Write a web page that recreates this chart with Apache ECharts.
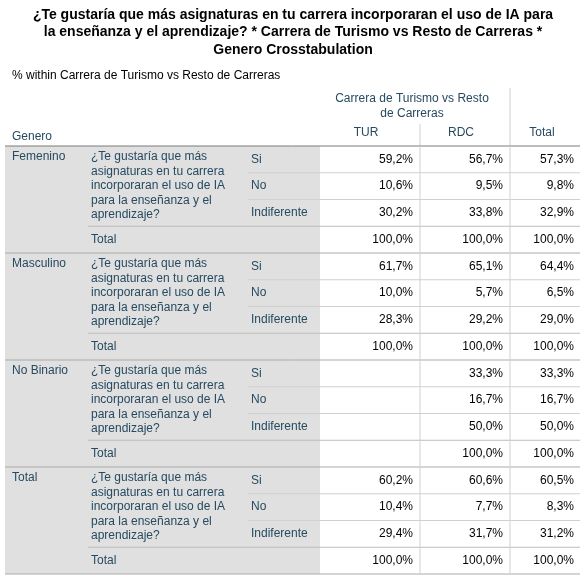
<!DOCTYPE html>
<html>
<head>
<meta charset="utf-8">
<script src="https://cdn.jsdelivr.net/npm/echarts@6/dist/echarts.min.js"></script>
<style>html,body{margin:0;padding:0;background:#fff}#main{width:586px;height:577px}</style>
</head>
<body>
<div id="main"></div>
<script>
var titleLines = ['¿Te gustaría que más asignaturas en tu carrera incorporaran el uso de IA para', 'la enseñanza y el aprendizaje? * Carrera de Turismo vs Resto de Carreras *', 'Genero Crosstabulation'];
var subtitle = '% within Carrera de Turismo vs Resto de Carreras';
var groups = ['Femenino', 'Masculino', 'No Binario', 'Total'];
var question = ['¿Te gustaría que más', 'asignaturas en tu carrera', 'incorporaran el uso de IA', 'para la enseñanza y el', 'aprendizaje?'];
var answers = ['Si', 'No', 'Indiferente', 'Total'];
var colHead = ['TUR', 'RDC', 'Total'];
var turVals = [['59,2%','10,6%','30,2%','100,0%'], ['61,7%','10,0%','28,3%','100,0%'], ['','','',''], ['60,2%','10,4%','29,4%','100,0%']];
var rdcVals = [['56,7%','9,5%','33,8%','100,0%'], ['65,1%','5,7%','29,2%','100,0%'], ['33,3%','16,7%','50,0%','100,0%'], ['60,6%','7,7%','31,7%','100,0%']];
var totVals = [['57,3%','9,8%','32,9%','100,0%'], ['64,4%','6,5%','29,0%','100,0%'], ['33,3%','16,7%','50,0%','100,0%'], ['60,5%','8,3%','31,2%','100,0%']];

var chart = echarts.init(document.getElementById('main'));
var F = 'Arial, "Liberation Sans", sans-serif';
var lab = '#264a60', dat = '#010205', line = '#d0d0d0';
var L = 5, R = 580, xQ = 88, xA = 248, xD = 320, xR = 420, xT = 510;
var top0 = 146, rh = 26.75;
var els = [];
function txt(x, y, s, o) {
  o = o || {};
  els.push({type: 'text', x: x, y: y, style: {text: s, font: (o.bold ? 'bold ' : '') + (o.size || 12) + 'px ' + F,
    fill: o.color || lab, align: o.align || 'left', verticalAlign: 'middle'}});
}
function hl(x1, x2, y, c) { els.push({type: 'line', shape: {x1: x1, y1: y, x2: x2, y2: y}, style: {stroke: c || line, lineWidth: 1}}); }
function vl(x, y1, y2, c) { els.push({type: 'line', shape: {x1: x, y1: y1, x2: x, y2: y2}, style: {stroke: c || line, lineWidth: 1}}); }

titleLines.forEach(function (t, i) { txt(293, 15 + i * 17.5, t, {bold: true, size: 14, color: '#000', align: 'center'}); });
txt(12, 76, subtitle, {color: '#000'});
var bottom = top0 + rh * 16;
els.push({type: 'rect', shape: {x: L, y: top0, width: xD - L, height: bottom - top0}, style: {fill: '#e0e0e0'}});
txt(412, 99, 'Carrera de Turismo vs Resto', {align: 'center'});
txt(412, 114, 'de Carreras', {align: 'center'});
txt(12, 137, 'Genero');
txt(366, 133, colHead[0], {align: 'center'});
txt(461, 133, colHead[1], {align: 'center'});
txt(542, 133, colHead[2], {align: 'center'});
vl(xR, 124, top0); vl(xT, 88, top0);
groups.forEach(function (g, gi) {
  var gy = top0 + gi * 4 * rh;
  txt(12, gy + 11, g);
  question.forEach(function (q, qi) { txt(xQ + 3, gy + 11 + qi * 14.5, q); });
  answers.forEach(function (a, ai) {
    var y = gy + ai * rh, cy = y + rh / 2;
    txt(ai === 3 ? xQ + 3 : xA + 3, cy, a);
    txt(xR - 7, cy, turVals[gi][ai], {align: 'right', color: dat});
    txt(xT - 7, cy, rdcVals[gi][ai], {align: 'right', color: dat});
    txt(R - 6, cy, totVals[gi][ai], {align: 'right', color: dat});
    if (ai > 0) hl(ai === 3 ? xQ : xA, R, y, ai === 3 ? '#bcbcbc' : line);
  });
  if (gi > 0) hl(L, R, gy, '#aaaaaa');
});
hl(L, R, top0, '#7a7a7a');
hl(L, R, bottom, '#aaaaaa');
vl(xR, top0, bottom); vl(xT, top0, bottom);
chart.setOption({animation: false, graphic: {elements: els}});
</script>
</body>
</html>
